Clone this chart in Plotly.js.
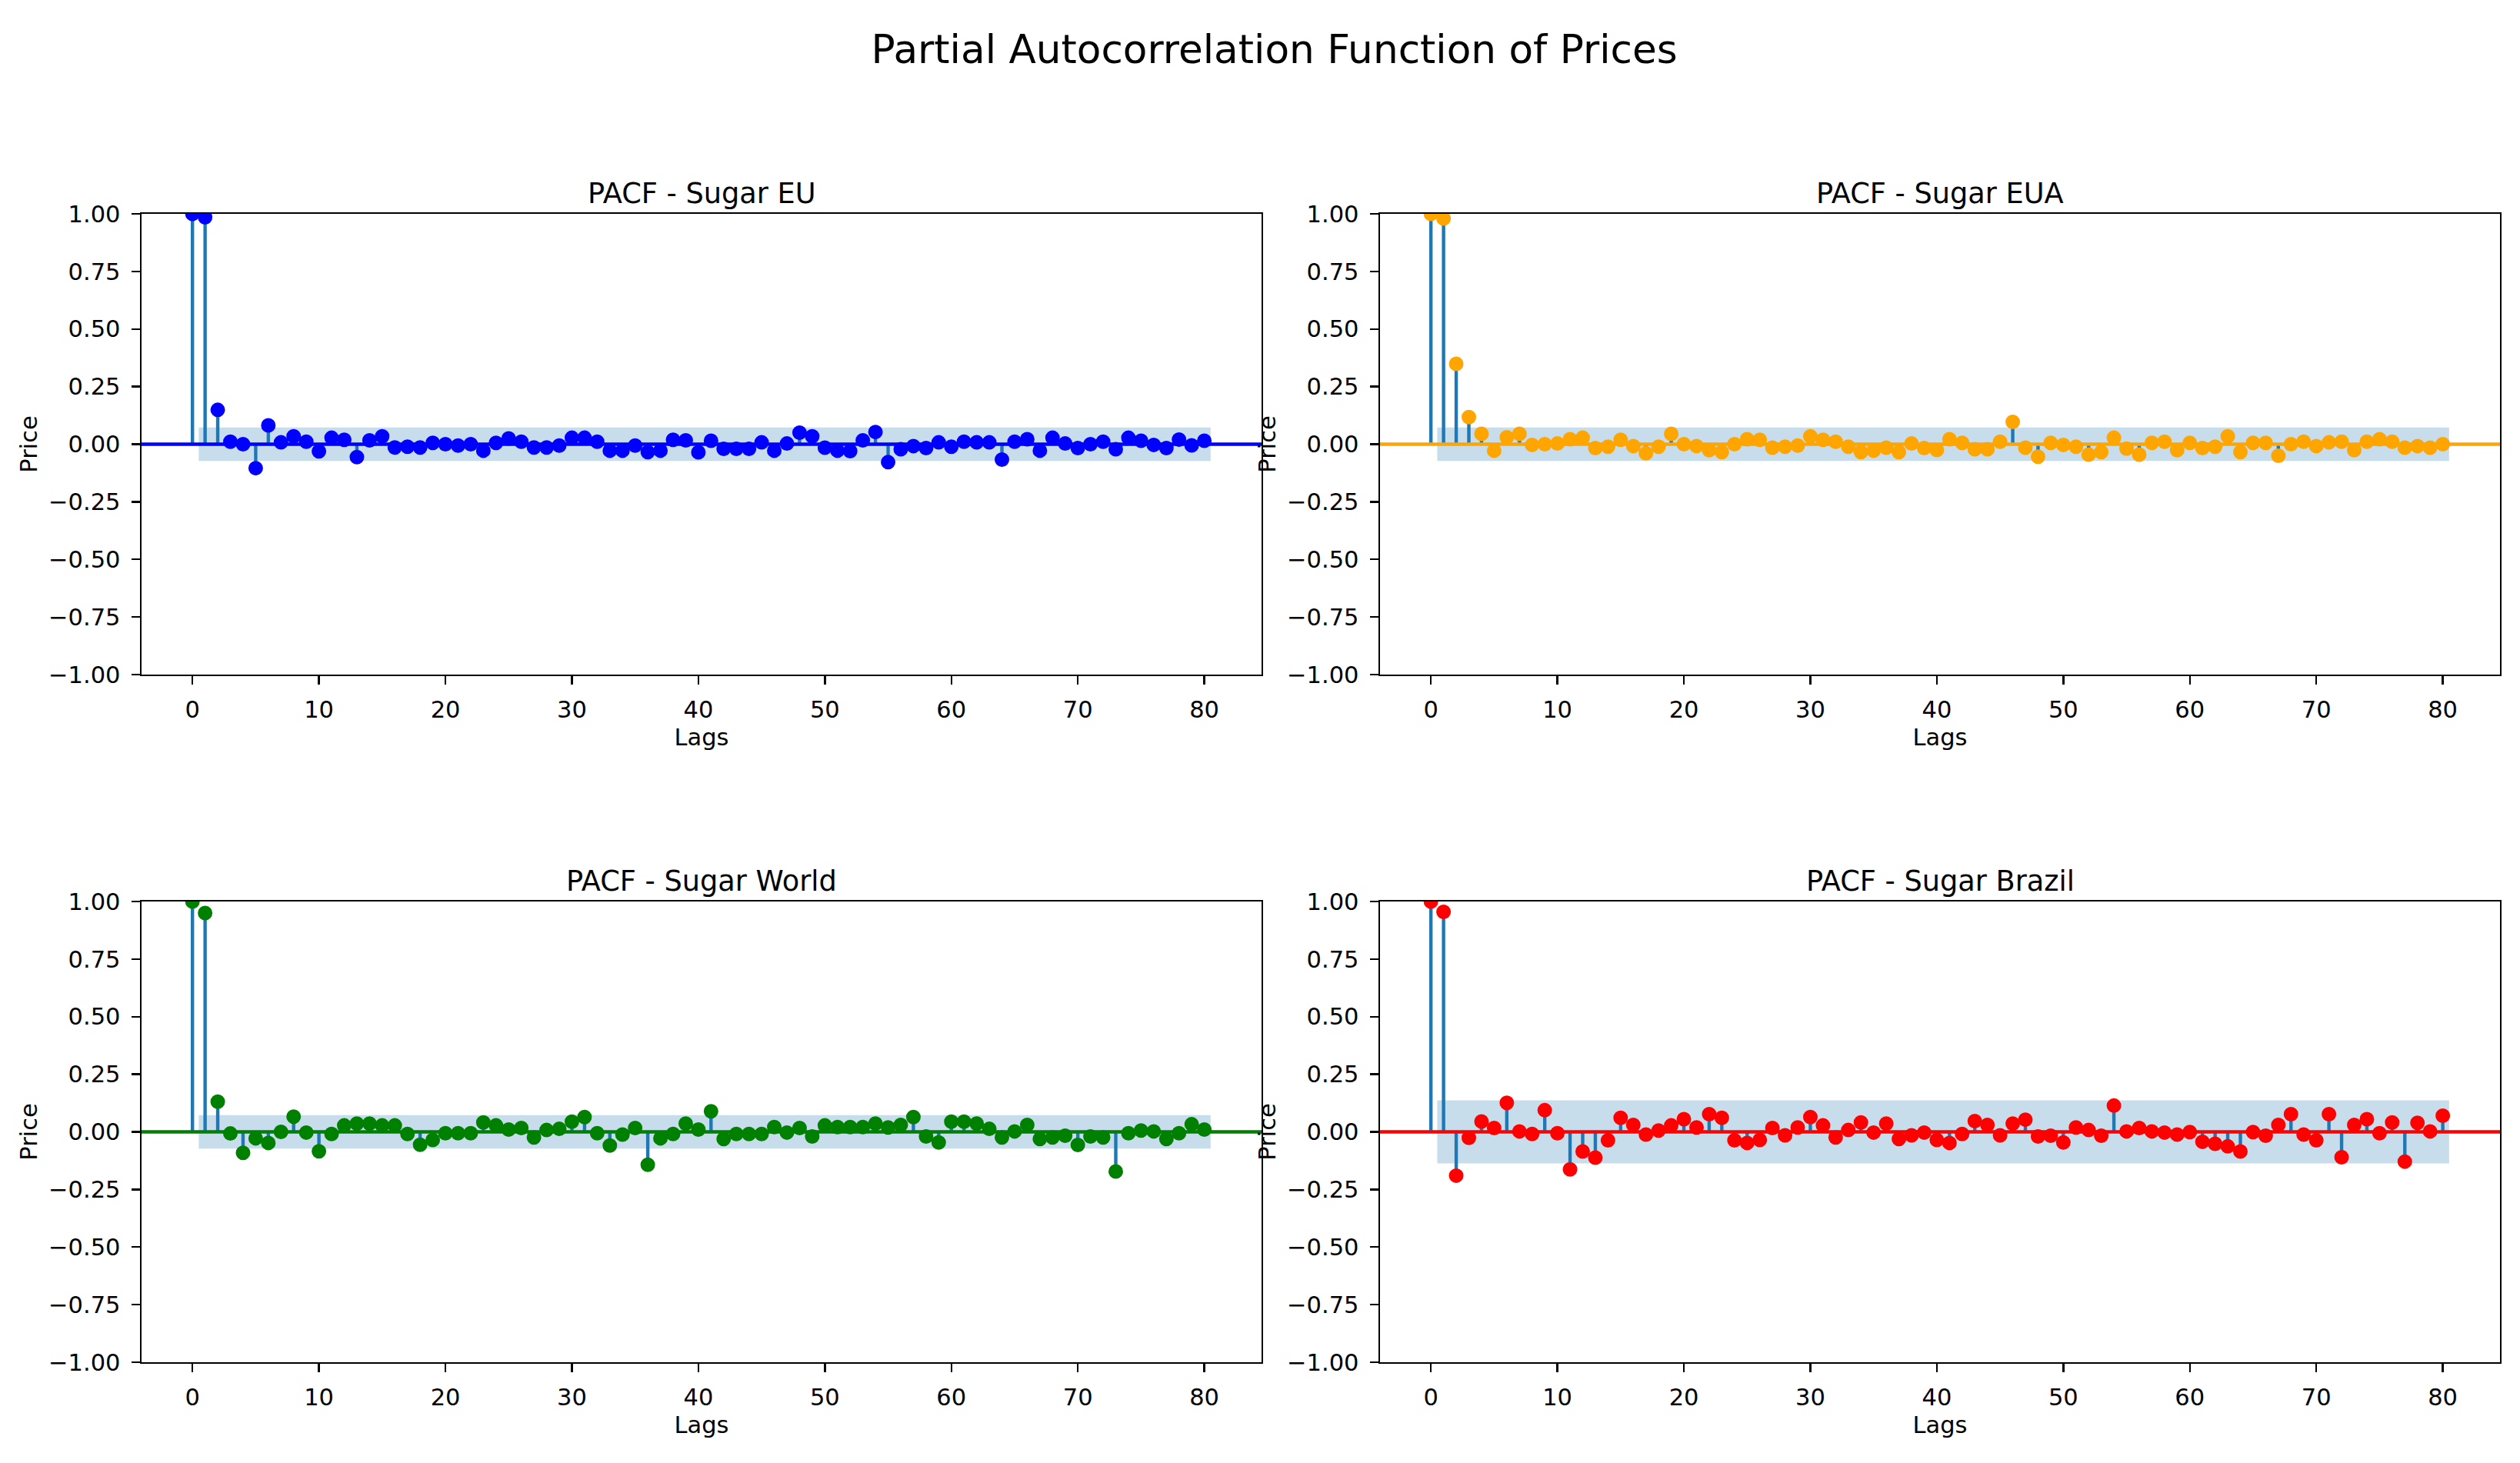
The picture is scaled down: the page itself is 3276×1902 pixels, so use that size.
<!DOCTYPE html>
<html>
<head>
<meta charset="utf-8">
<script src="https://cdn.plot.ly/plotly-3.0.1.min.js"></script>
<style>
html,body{margin:0;padding:0;background:#ffffff;}
#chart{width:3276px;height:1902px;}
</style>
</head>
<body>
<div id="chart"></div>
<script>
// ---------------- DATA ----------------
const lags = [0,1,2,3,4,5,6,7,8,9,10,11,12,13,14,15,16,17,18,19,20,21,22,23,24,25,26,27,28,29,30,
  31,32,33,34,35,36,37,38,39,40,41,42,43,44,45,46,47,48,49,50,51,52,53,54,55,56,57,58,59,60,
  61,62,63,64,65,66,67,68,69,70,71,72,73,74,75,76,77,78,79,80];

const pacfSugarEU = [1.0,0.985,0.149,0.011,0.0,-0.104,0.082,0.008,0.034,0.011,-0.031,
  0.028,0.019,-0.056,0.017,0.034,-0.014,-0.011,-0.014,0.006,0.0,
  -0.006,0.0,-0.028,0.006,0.025,0.011,-0.014,-0.014,-0.006,0.028,
  0.028,0.011,-0.028,-0.028,-0.006,-0.034,-0.028,0.019,0.017,-0.035,
  0.015,-0.02,-0.02,-0.02,0.008,-0.028,0.003,0.05,0.034,-0.015,
  -0.028,-0.03,0.017,0.053,-0.078,-0.022,-0.008,-0.017,0.008,-0.011,
  0.011,0.008,0.008,-0.067,0.011,0.022,-0.028,0.028,0.003,-0.017,
  0.0,0.011,-0.022,0.028,0.015,-0.003,-0.017,0.02,-0.005,0.015];

const pacfSugarEUA = [1.0,0.98,0.349,0.118,0.045,-0.028,0.03,0.045,-0.003,0.0,0.003,
  0.022,0.028,-0.017,-0.011,0.019,-0.008,-0.039,-0.011,0.045,0.0,
  -0.008,-0.026,-0.034,0.0,0.022,0.019,-0.015,-0.011,-0.006,0.034,
  0.019,0.011,-0.011,-0.034,-0.028,-0.015,-0.034,0.003,-0.017,-0.025,
  0.022,0.006,-0.022,-0.022,0.011,0.097,-0.015,-0.054,0.006,-0.003,
  -0.011,-0.045,-0.034,0.028,-0.019,-0.045,0.006,0.011,-0.026,0.006,
  -0.017,-0.011,0.034,-0.034,0.006,0.006,-0.05,0.0,0.011,-0.008,
  0.008,0.011,-0.026,0.011,0.022,0.011,-0.015,-0.008,-0.015,0.0];

const pacfSugarWorld = [1.0,0.95,0.131,-0.007,-0.091,-0.028,-0.048,0.0,0.066,-0.003,-0.084,
  -0.009,0.028,0.036,0.036,0.028,0.028,-0.009,-0.056,-0.035,-0.006,
  -0.006,-0.006,0.041,0.028,0.01,0.017,-0.024,0.008,0.013,0.044,
  0.064,-0.006,-0.059,-0.012,0.017,-0.143,-0.028,-0.009,0.036,0.01,
  0.089,-0.031,-0.009,-0.009,-0.009,0.021,-0.003,0.017,-0.02,0.028,
  0.021,0.021,0.021,0.036,0.019,0.03,0.064,-0.02,-0.046,0.044,
  0.044,0.036,0.013,-0.024,0.002,0.03,-0.031,-0.024,-0.017,-0.057,
  -0.02,-0.024,-0.172,-0.006,0.006,0.002,-0.031,-0.006,0.033,0.01];

const pacfSugarBrazil = [1.0,0.955,-0.19,-0.026,0.045,0.017,0.126,0.002,-0.009,0.094,-0.006,
  -0.163,-0.085,-0.112,-0.037,0.061,0.03,-0.012,0.006,0.028,0.055,
  0.019,0.077,0.061,-0.037,-0.048,-0.035,0.017,-0.015,0.019,0.064,
  0.028,-0.024,0.008,0.041,-0.003,0.036,-0.031,-0.015,-0.003,-0.035,
  -0.048,-0.009,0.047,0.03,-0.015,0.036,0.053,-0.02,-0.017,-0.046,
  0.019,0.008,-0.017,0.114,0.002,0.017,0.002,-0.003,-0.012,-0.001,
  -0.043,-0.052,-0.063,-0.085,-0.001,-0.017,0.03,0.077,-0.012,-0.037,
  0.077,-0.11,0.03,0.055,-0.006,0.041,-0.129,0.039,0.002,0.07];

// 95% confidence half-widths (shaded band)
const confSugarEU = 0.073;
const confSugarEUA = 0.073;
const confSugarWorld = 0.073;
const confSugarBrazil = 0.137;

const panelTitles = ["PACF - Sugar EU","PACF - Sugar EUA","PACF - Sugar World","PACF - Sugar Brazil"];
const xTickVals = [0,10,20,30,40,50,60,70,80];
const yTickVals = [-1,-0.75,-0.5,-0.25,0,0.25,0.5,0.75,1];

// ---------------- STYLE ----------------
const W = 3276, H = 1902;
const FONT = "DejaVu Sans, Liberation Sans, sans-serif";
const STEM = "#1f77b4";
const BAND = "rgba(31,119,180,0.25)";
const panels = [
  {vals: pacfSugarEU,     conf: confSugarEU,     color: "blue",   px: [184,1640], py: [278,877]},
  {vals: pacfSugarEUA,    conf: confSugarEUA,    color: "orange", px: [1794,3250], py: [278,877]},
  {vals: pacfSugarWorld,  conf: confSugarWorld,  color: "green",  px: [184,1640], py: [1172,1771]},
  {vals: pacfSugarBrazil, conf: confSugarBrazil, color: "red",    px: [1794,3250], py: [1172,1771]}
];

// x-range as matplotlib autoscale with 5% margins (band reaches last lag + 0.5)
const lo = Math.min(...lags), hi = Math.max(...lags) + 0.5;
const pad = 0.05 * (hi - lo);
const xRange = [lo - pad, hi + pad];

const traces = [];
const layout = {
  width: W, height: H,
  margin: {l:0, r:0, t:0, b:0},
  paper_bgcolor: "#ffffff",
  plot_bgcolor: "#ffffff",
  showlegend: false,
  font: {family: FONT, color: "#000000"},
  title: {
    text: "Partial Autocorrelation Function of Prices",
    font: {family: FONT, size: 51.7, color: "#000000"},
    x: 0.5057, xanchor: "center",
    y: 1 - 64/H, yref: "container", yanchor: "middle"
  },
  annotations: []
};

panels.forEach((p, i) => {
  const n = i + 1;
  const xa = "x" + (n === 1 ? "" : n);
  const ya = "y" + (n === 1 ? "" : n);

  // confidence band over lags 1..N (first shifted -0.5, last +0.5)
  const bl = lags.slice(1).map(Number);
  bl[0] -= 0.5; bl[bl.length-1] += 0.5;
  const bandX = bl.concat(bl.slice().reverse());
  const bandY = bl.map(() => p.conf).concat(bl.map(() => -p.conf));
  traces.push({x: bandX, y: bandY, xaxis: xa, yaxis: ya, type: "scatter", mode: "lines",
    fill: "toself", fillcolor: BAND, line: {width: 0, color: BAND}, hoverinfo: "skip"});

  // stems
  const sx = [], sy = [];
  lags.forEach((l, k) => { sx.push(l, l, null); sy.push(0, p.vals[k], null); });
  traces.push({x: sx, y: sy, xaxis: xa, yaxis: ya, type: "scatter", mode: "lines",
    line: {color: STEM, width: 4.4}, hoverinfo: "skip"});

  // horizontal zero line across the axis
  traces.push({x: xRange, y: [0, 0], xaxis: xa, yaxis: ya, type: "scatter", mode: "lines",
    line: {color: p.color, width: 4.6}, hoverinfo: "skip"});

  // markers
  traces.push({x: lags, y: p.vals, xaxis: xa, yaxis: ya, type: "scatter", mode: "markers",
    marker: {color: p.color, size: 17, line: {color: p.color, width: 2}}});

  const axCommon = {
    showline: true, mirror: true, linecolor: "#000000", linewidth: 2.4,
    ticks: "outside", ticklen: 11, tickwidth: 2.4, tickcolor: "#000000",
    showgrid: false, zeroline: false, automargin: false,
    tickfont: {family: FONT, size: 30.5, color: "#000000"}
  };
  layout["xaxis" + (n === 1 ? "" : n)] = Object.assign({}, axCommon, {
    domain: [p.px[0]/W, p.px[1]/W],
    anchor: ya,
    range: xRange,
    tickmode: "array", tickvals: xTickVals,
    ticklabelstandoff: 6,
    title: {text: "Lags", font: {family: FONT, size: 30.5, color: "#000000"}, standoff: 9}
  });
  layout["yaxis" + (n === 1 ? "" : n)] = Object.assign({}, axCommon, {
    domain: [1 - p.py[1]/H, 1 - p.py[0]/H],
    anchor: xa,
    range: [-1, 1],
    tickmode: "array", tickvals: yTickVals, tickformat: ".2f",
    ticklabelstandoff: 8,
    title: {text: "Price", font: {family: FONT, size: 30.5, color: "#000000"}, standoff: 6}
  });

  layout.annotations.push({
    text: panelTitles[i], showarrow: false,
    xref: "paper", yref: "paper",
    x: (p.px[0] + p.px[1]) / 2 / W, xanchor: "center",
    y: 1 - (p.py[0] - 3) / H, yanchor: "bottom",
    font: {family: FONT, size: 36.7, color: "#000000"}
  });
});

Plotly.newPlot("chart", traces, layout, {displayModeBar: false, staticPlot: true});
</script>
</body>
</html>
